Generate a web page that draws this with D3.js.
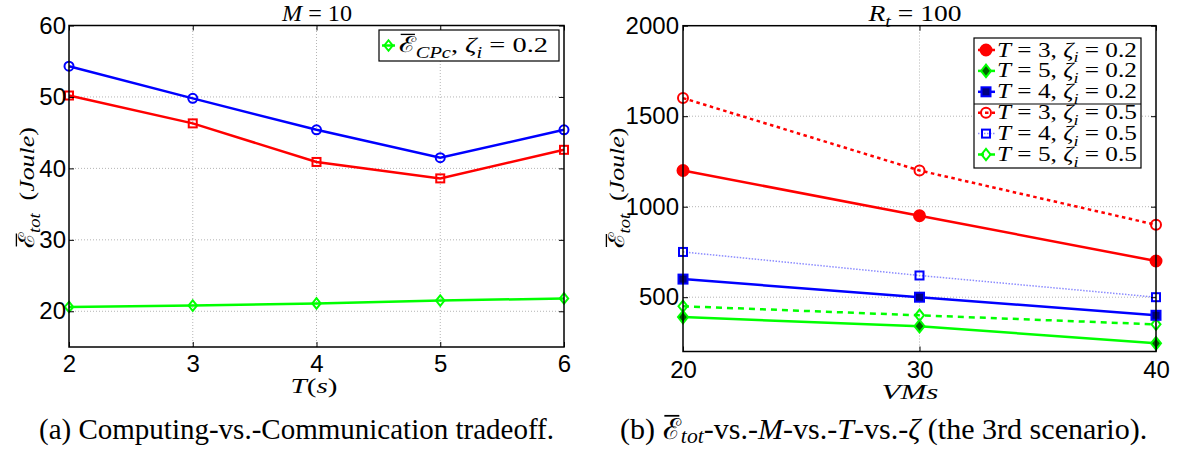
<!DOCTYPE html>
<html><head><meta charset="utf-8">
<script src="https://cdn.jsdelivr.net/npm/d3@7"></script>
<style>body{margin:0;background:#fff} text{white-space:pre}</style>
</head><body>
<svg id="c" width="1183" height="450"></svg>
<script>
// ---------- data ----------
const xTicksA = [2, 3, 4, 5, 6];
const yTicksA = [20, 30, 40, 50, 60];
const blueA  = [54.3, 49.8, 45.4, 41.5, 45.4];
const redA   = [50.2, 46.3, 40.9, 38.6, 42.6];
const greenA = [20.6, 20.8, 21.1, 21.5, 21.8];

const vms = [20, 30, 40];
const yTicksB = [500, 1000, 1500, 2000];
const t3z02 = [1200, 950, 700];
const t5z02 = [390, 340, 245];
const t4z02 = [600, 500, 400];
const t3z05 = [1600, 1200, 900];
const t4z05 = [750, 620, 500];
const t5z05 = [450, 400, 350];

const legendA = ["CPc"];
const legendB = [["3","0.2"],["5","0.2"],["4","0.2"],["3","0.5"],["4","0.5"],["5","0.5"]];

// ---------- setup ----------
const svg = d3.select("#c");
const SERIF = "Liberation Serif, Tinos, Times New Roman, serif";
const SANS = "Liberation Sans, Arimo, Arial, sans-serif";
const RED = "#ff0000", BLUE = "#0000ff", GREEN = "#00ff00";

function rich(parent, x, y, parts, o) {
  const g = parent.append("g");
  const t = g.append("text").attr("font-family", o.family || SERIF)
    .attr("font-size", o.size).attr("fill", "#000");
  let shift = 0, chars = 0; const bars = [];
  const subK = o.subShift != null ? o.subShift : 0.28;
  parts.forEach(p => {
    const ts = t.append("tspan").text(p.t);
    if (p.it) ts.attr("font-style", "italic");
    const want = p.sub ? o.size * subK : 0;
    if (want !== shift) { ts.attr("dy", want - shift); shift = want; }
    if (p.sub) ts.attr("font-size", o.size * 0.72);
    if (p.bar) bars.push(chars);
    chars += p.t.length;
  });
  const node = t.node();
  const w = node.getComputedTextLength();
  const s = o.width ? o.width / w : 1;
  const x0 = o.anchor === "middle" ? -w / 2 : o.anchor === "end" ? -w : 0;
  t.attr("x", x0);
  bars.forEach(i => {
    const e = node.getExtentOfChar(i);
    g.append("line").attr("x1", e.x + e.width * 0.1).attr("x2", e.x + e.width * 0.95)
      .attr("y1", -o.size * 0.8).attr("y2", -o.size * 0.8)
      .attr("stroke", "#000").attr("stroke-width", o.size * 0.06);
  });
  g.attr("transform", `translate(${x},${y})${o.rot ? ` rotate(${o.rot})` : ""} scale(${s},1)`);
  return g;
}

function marker(g, type, cx, cy, stroke, fill, size, sw) {
  let m;
  if (type === "o") m = g.append("circle").attr("cx", cx).attr("cy", cy).attr("r", size);
  else if (type === "s") m = g.append("rect").attr("x", cx - size).attr("y", cy - size)
    .attr("width", 2 * size).attr("height", 2 * size);
  else m = g.append("path").attr("d",
    `M${cx},${cy - size * 1.25}L${cx + size},${cy}L${cx},${cy + size * 1.25}L${cx - size},${cy}Z`);
  m.attr("stroke", stroke).attr("fill", fill).attr("stroke-width", sw);
}

function frame(x, y, xt, yt) {
  const [x0, x1] = x.range(), [y0, y1] = y.range();
  const g = svg.append("g");
  xt.filter(v => x(v) > x0 + 1 && x(v) < x1 - 1).forEach(v =>
    g.append("line").attr("x1", x(v)).attr("x2", x(v)).attr("y1", y0).attr("y2", y1)
      .attr("stroke", "#b4b4b4").attr("stroke-width", 1).attr("stroke-dasharray", "1,2"));
  yt.filter(v => y(v) < y0 - 1 && y(v) > y1 + 1).forEach(v =>
    g.append("line").attr("y1", y(v)).attr("y2", y(v)).attr("x1", x0).attr("x2", x1)
      .attr("stroke", "#b4b4b4").attr("stroke-width", 1).attr("stroke-dasharray", "1,2"));
  return g;
}

function axes(x, y, xt, yt, padX, padY) {
  const [x0, x1] = x.range(), [y0, y1] = y.range();
  const g = svg.append("g");
  const style = sel => {
    sel.selectAll(".domain").remove();
    sel.selectAll("line").attr("stroke", "#000").attr("stroke-width", 1);
    sel.selectAll("text").attr("font-family", SANS).attr("font-size", 24).attr("fill", "#000");
  };
  g.append("g").attr("transform", `translate(0,${y0})`)
    .call(d3.axisBottom(x).tickValues(xt).tickSizeInner(-5).tickSizeOuter(0).tickPadding(padX).tickFormat(d3.format("d")))
    .call(style);
  g.append("g").attr("transform", `translate(${x0},0)`)
    .call(d3.axisLeft(y).tickValues(yt).tickSizeInner(-5).tickSizeOuter(0).tickPadding(padY).tickFormat(d3.format("d")))
    .call(style);
  g.append("g").attr("transform", `translate(0,${y1})`)
    .call(d3.axisTop(x).tickValues(xt).tickSizeInner(-5).tickSizeOuter(0).tickFormat(""))
    .call(style);
  g.append("g").attr("transform", `translate(${x1},0)`)
    .call(d3.axisRight(y).tickValues(yt).tickSizeInner(-5).tickSizeOuter(0).tickFormat(""))
    .call(style);
  g.append("rect").attr("x", x0).attr("y", y1).attr("width", x1 - x0).attr("height", y0 - y1)
    .attr("fill", "none").attr("stroke", "#000").attr("stroke-width", 1.5);
}

// ---------- chart (a) ----------
const xA = d3.scaleLinear().domain([2, 6]).range([69, 564]);
const yA = d3.scaleLinear().domain([15, 60]).range([347, 25.5]);
frame(xA, yA, xTicksA, yTicksA);
const lineA = d3.line().x((d, i) => xA(xTicksA[i])).y(d => yA(d));
const gA = svg.append("g");
[[blueA, BLUE, "o"], [redA, RED, "s"], [greenA, GREEN, "d"]].forEach(([data, col, mk]) => {
  gA.append("path").attr("d", lineA(data)).attr("fill", "none").attr("stroke", col).attr("stroke-width", 2.5);
  data.forEach((v, i) => marker(gA, mk, xA(xTicksA[i]), yA(v), col, "none", mk === "o" ? 4.5 : mk === "s" ? 4 : 4.2, 2));
});
axes(xA, yA, xTicksA, yTicksA, 8, 3);

// legend (a)
svg.append("rect").attr("x", 379).attr("y", 30).attr("width", 180).attr("height", 31)
  .attr("fill", "#fff").attr("stroke", "#000").attr("stroke-width", 1.2);
svg.append("line").attr("x1", 382).attr("x2", 395).attr("y1", 45.5).attr("y2", 45.5)
  .attr("stroke", GREEN).attr("stroke-width", 2.5);
marker(svg, "d", 388.5, 45.5, GREEN, "none", 4.2, 2);
rich(svg, 399, 52, [{t: "ℰ", bar: true}, {t: legendA[0], it: true, sub: true}, {t: ", "},
  {t: "ζ", it: true}, {t: "i", it: true, sub: true}, {t: " = 0.2"}], {size: 22, width: 149});

// ---------- chart (b) ----------
const xB = d3.scaleLinear().domain([20, 40]).range([683, 1156]);
const yB = d3.scaleLinear().domain([200, 2000]).range([351.5, 25.7]);
frame(xB, yB, vms, yTicksB);
const lineB = d3.line().x((d, i) => xB(vms[i])).y(d => yB(d));
const seriesB = [
  {d: t3z05, c: RED, dash: "3.5,3.5", w: 2.5, mk: "o", fill: "none", sz: 5},
  {d: t4z05, c: "#8c8cff", mc: BLUE, dash: "1.5,1.5", w: 1.5, mk: "s", fill: "none", sz: 4},
  {d: t5z05, c: GREEN, dash: "6,5", w: 2.5, mk: "d", fill: "none", sz: 4.5},
  {d: t3z02, c: RED, dash: null, w: 2.5, mk: "o", fill: RED, sz: 5.5},
  {d: t4z02, c: BLUE, dash: null, w: 2.5, mk: "s", fill: "#000080", sz: 4.5},
  {d: t5z02, c: GREEN, dash: null, w: 2.5, mk: "d", fill: "#006400", sz: 5},
];
const gB = svg.append("g");
seriesB.forEach(s => {
  gB.append("path").attr("d", lineB(s.d)).attr("fill", "none").attr("stroke", s.c)
    .attr("stroke-width", s.w).attr("stroke-dasharray", s.dash);
  s.d.forEach((v, i) => marker(gB, s.mk, xB(vms[i]), yB(v), s.mc || s.c, s.fill, s.sz, 2));
});
axes(xB, yB, vms, yTicksB, 9, 4);

// legend (b)
svg.append("rect").attr("x", 974).attr("y", 38).attr("width", 167).attr("height", 130)
  .attr("fill", "#fff").attr("stroke", "#000").attr("stroke-width", 1.2);
svg.append("line").attr("x1", 974).attr("x2", 1141).attr("y1", 104).attr("y2", 104)
  .attr("stroke", "#000").attr("stroke-width", 1.2);
const legOrder = [3, 5, 4, 0, 1, 2];
legendB.forEach((lab, i) => {
  const s = seriesB[legOrder[i]];
  const cy = 50 + i * 20.9;
  svg.append("line").attr("x1", 978).attr("x2", 995).attr("y1", cy).attr("y2", cy)
    .attr("stroke", s.c).attr("stroke-width", s.w).attr("stroke-dasharray", s.dash);
  marker(svg, s.mk, 986, cy, s.mc || s.c, s.fill, s.sz, 2);
  rich(svg, 997, cy + 6.5, [{t: "T", it: true}, {t: " = " + lab[0] + ", "}, {t: "ζ", it: true},
    {t: "i", it: true, sub: true}, {t: " = " + lab[1]}], {size: 20, width: 140});
});

// ---------- titles & labels ----------
rich(svg, 317, 21, [{t: "M", it: true}, {t: " = 10"}], {size: 23, anchor: "middle", width: 70});
rich(svg, 915, 21, [{t: "R", it: true}, {t: "t", it: true, sub: true}, {t: " = 100"}], {size: 23, anchor: "middle", width: 93});
rich(svg, 34, 187.5, [{t: "ℰ", bar: true}, {t: "tot", it: true, sub: true}, {t: "  ("}, {t: "Joule", it: true}, {t: ")"}],
  {size: 22, anchor: "middle", rot: -90, width: 121});
rich(svg, 624, 188, [{t: "ℰ", bar: true}, {t: "tot", it: true, sub: true}, {t: "  ("}, {t: "Joule", it: true}, {t: ")"}],
  {size: 22, anchor: "middle", rot: -90, width: 121});
rich(svg, 314, 393, [{t: "T", it: true}, {t: "("}, {t: "s", it: true}, {t: ")"}], {size: 22, anchor: "middle", width: 47});
rich(svg, 910, 399, [{t: "VMs", it: true}], {size: 21, anchor: "middle", width: 57});

rich(svg, 39, 439, [{t: "(a) Computing-vs.-Communication tradeoff."}], {size: 29, width: 515});
rich(svg, 620, 439, [{t: "(b) "}, {t: "ℰ", bar: true}, {t: "tot", it: true, sub: true}, {t: "-vs.-"}, {t: "M", it: true},
  {t: "-vs.-"}, {t: "T", it: true}, {t: "-vs.-"}, {t: "ζ", it: true}, {t: " (the 3rd scenario)."}],
  {size: 29, width: 527, subShift: 0.15});
</script>
</body></html>
